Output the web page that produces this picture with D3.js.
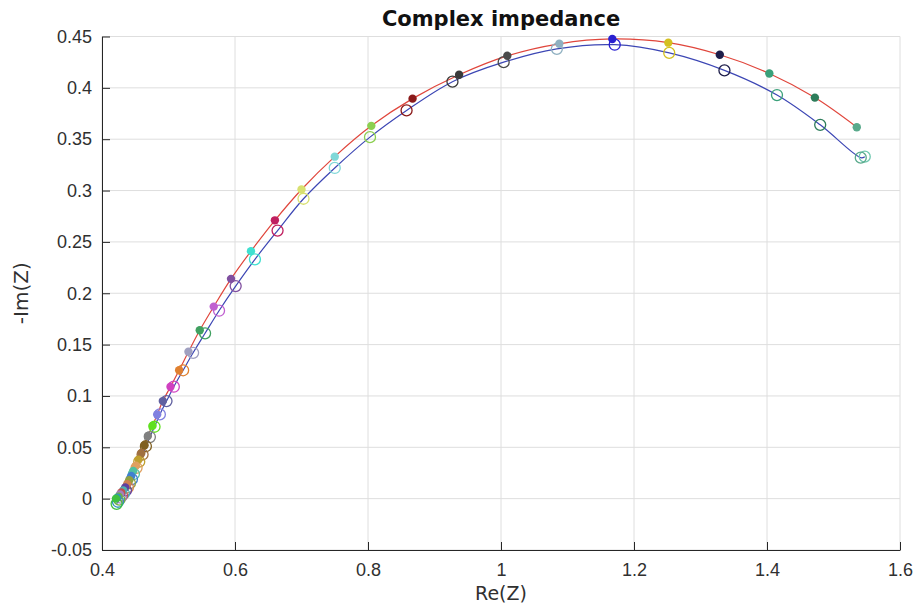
<!DOCTYPE html>
<html>
<head>
<meta charset="utf-8">
<script src="https://cdn.jsdelivr.net/npm/d3@7"></script>
<style>
  body { margin: 0; background: #fff; }
  svg { font-family: "DejaVu Sans", sans-serif; }
  .grid line { stroke: #dedede; stroke-width: 1; }
  .axis path, .axis line { stroke: #262626; }
  .axis text { fill: #303030; font-size: 18px; }
</style>
</head>
<body>
<div id="chart"></div>
<script>
// measured (filled dots, red line), high Re -> low Re
var redRe = [1.535, 1.472, 1.4035, 1.329, 1.2516, 1.1674, 1.0877, 1.0095, 0.937, 0.867,
  0.805, 0.750, 0.700, 0.660, 0.624, 0.594, 0.568, 0.547, 0.530, 0.516,
  0.503, 0.4915, 0.483, 0.476, 0.469, 0.464, 0.459, 0.455, 0.451, 0.447,
  0.444, 0.441, 0.438, 0.435, 0.432, 0.429, 0.427, 0.425, 0.423, 0.421];
var redIm = [0.3617, 0.3905, 0.414, 0.4322, 0.444, 0.4476, 0.4429, 0.4312, 0.4128, 0.3895,
  0.363, 0.333, 0.301, 0.271, 0.241, 0.214, 0.187, 0.164, 0.143, 0.125,
  0.109, 0.095, 0.082, 0.071, 0.061, 0.052, 0.044, 0.038, 0.032, 0.027,
  0.022, 0.018, 0.014, 0.011, 0.008, 0.006, 0.004, 0.002, 0.001, 0.000];

// model (open circles, blue line)
var blueRe = [1.547, 1.541, 1.480, 1.415, 1.336, 1.253, 1.171, 1.084, 1.004, 0.927, 0.858,
  0.803, 0.750, 0.703, 0.664, 0.630, 0.601, 0.576, 0.555, 0.537, 0.522,
  0.508, 0.497, 0.487, 0.479, 0.472, 0.466, 0.461, 0.456, 0.452, 0.448,
  0.445, 0.442, 0.439, 0.436, 0.433, 0.430, 0.428, 0.426, 0.424, 0.422];
var blueIm = [0.333, 0.332, 0.364, 0.393, 0.417, 0.434, 0.442, 0.438, 0.425, 0.406, 0.378,
  0.352, 0.322, 0.292, 0.261, 0.233, 0.207, 0.183, 0.161, 0.142, 0.125,
  0.109, 0.095, 0.082, 0.070, 0.060, 0.051, 0.043, 0.036, 0.030, 0.024,
  0.019, 0.015, 0.011, 0.008, 0.005, 0.003, 0.001, -0.001, -0.003, -0.005];

var pointColors = ["#5aaa8c", "#2e7d5b", "#3aa07a", "#1e1e4a", "#d4c020", "#2a20d0", "#8fb0c0", "#4a4a4a", "#3a3a3a", "#8b1a1a",
  "#8ccf50", "#80d8d8", "#d8e070", "#c02060", "#40e0d0", "#8050a0", "#c060d0", "#40a060", "#a0a0c0", "#e08030",
  "#d040c0", "#6060a0", "#8080e0", "#60e020", "#808080", "#806020", "#a07040", "#c0a030", "#e0a060", "#50c0a0",
  "#4080d0", "#90a040", "#d08050", "#6040a0", "#50b0b0", "#c05050", "#a080c0", "#70b040", "#3090c0", "#40c040"];
var extraColor = "#70c8b0";

var xTicks = [0.4, 0.6, 0.8, 1, 1.2, 1.4, 1.6];
var yTicks = [-0.05, 0, 0.05, 0.1, 0.15, 0.2, 0.25, 0.3, 0.35, 0.4, 0.45];

var W = 916, H = 607;
var margin = {left: 102, right: 16, top: 36.5, bottom: 57};
var w = W - margin.left - margin.right, h = H - margin.top - margin.bottom;

var svg = d3.select("#chart").append("svg")
  .attr("width", W).attr("height", H);
var g = svg.append("g")
  .attr("transform", `translate(${margin.left},${margin.top})`);

var x = d3.scaleLinear().domain([0.4, 1.6]).range([0, w]);
var y = d3.scaleLinear().domain([-0.05, 0.45]).range([h, 0]);

// grid
g.append("g").attr("class", "grid")
  .selectAll("line.v").data(xTicks).enter().append("line")
  .attr("x1", d => x(d)).attr("x2", d => x(d))
  .attr("y1", 0).attr("y2", h);
g.append("g").attr("class", "grid")
  .selectAll("line.h").data(yTicks).enter().append("line")
  .attr("y1", d => y(d)).attr("y2", d => y(d))
  .attr("x1", 0).attr("x2", w);

// axes, ticks pointing inwards like matlab
var fmt = d => String(+d.toFixed(2));
var xAxis = d3.axisBottom(x).tickValues(xTicks).tickFormat(fmt)
  .tickSizeInner(-8).tickSizeOuter(0).tickPadding(13);
var yAxis = d3.axisLeft(y).tickValues(yTicks).tickFormat(fmt)
  .tickSizeInner(-8).tickSizeOuter(0).tickPadding(10);
g.append("g").attr("class", "x axis")
  .attr("transform", `translate(0,${h})`).call(xAxis);
g.append("g").attr("class", "y axis").call(yAxis);

var red = redRe.map((d, i) => ({re: d, im: redIm[i], c: pointColors[i]}));
var blue = blueRe.map((d, i) => ({re: d, im: blueIm[i], c: i === 0 ? extraColor : pointColors[i - 1]}));

var line = d3.line().x(d => x(d.re)).y(d => y(d.im)).curve(d3.curveCatmullRom);

g.append("path").datum(blue)
  .attr("d", line).attr("fill", "none")
  .attr("stroke", "#3c46b4").attr("stroke-width", 1.2);
g.append("path").datum(red)
  .attr("d", line).attr("fill", "none")
  .attr("stroke", "#e0463c").attr("stroke-width", 1.2);

g.append("g").selectAll("circle").data(blue).enter().append("circle")
  .attr("cx", d => x(d.re)).attr("cy", d => y(d.im)).attr("r", 5.5)
  .attr("fill", "none").attr("stroke", d => d.c).attr("stroke-width", 1.3);
g.append("g").selectAll("circle").data(red).enter().append("circle")
  .attr("cx", d => x(d.re)).attr("cy", d => y(d.im)).attr("r", 4.2)
  .attr("fill", d => d.c);

// labels
svg.append("text")
  .attr("x", margin.left + w / 2).attr("y", 26)
  .attr("text-anchor", "middle")
  .style("font-size", "21px").style("font-weight", "bold").style("fill", "#111")
  .text("Complex impedance");
svg.append("text")
  .attr("x", margin.left + w / 2).attr("y", 600)
  .attr("text-anchor", "middle")
  .style("font-size", "19px").style("fill", "#303030")
  .text("Re(Z)");
svg.append("text")
  .attr("transform", `translate(28,${margin.top + h / 2}) rotate(-90)`)
  .attr("text-anchor", "middle")
  .style("font-size", "20px").style("fill", "#303030")
  .text("-Im(Z)");
</script>
</body>
</html>
